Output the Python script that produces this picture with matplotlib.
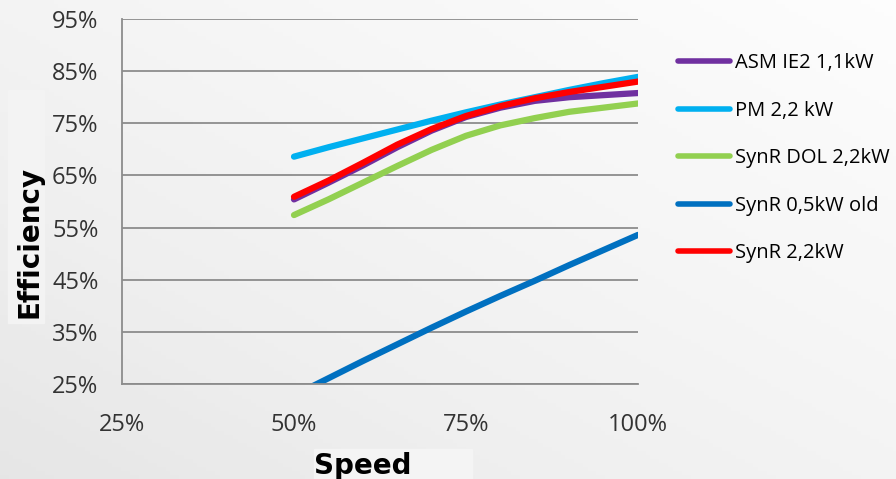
import numpy as np
import matplotlib
matplotlib.use("Agg")
import matplotlib.pyplot as plt
from matplotlib.ticker import FuncFormatter

# speed (%) and efficiency (%)
speed = [50, 55, 60, 65, 70, 75, 80, 85, 90, 95, 100]
asm_ie2 = [60.4, 63.6, 66.9, 70.4, 73.6, 76.2, 78.0, 79.3, 80.0, 80.4, 80.8]
pm_22 = [68.6, 70.4, 72.1, 73.8, 75.5, 77.1, 78.6, 80.0, 81.4, 82.7, 83.9]
synr_dol = [57.4, 60.4, 63.6, 66.8, 69.9, 72.6, 74.6, 76.0, 77.2, 78.0, 78.8]
synr_old = [22.8, 26.1, 29.4, 32.6, 35.8, 38.9, 41.9, 44.8, 47.8, 50.7, 53.6]
synr_22 = [60.9, 64.0, 67.4, 70.9, 73.9, 76.4, 78.3, 79.8, 81.0, 82.0, 83.0]

labels = ["ASM IE2 1,1kW", "PM 2,2 kW", "SynR DOL 2,2kW", "SynR 0,5kW old", "SynR 2,2kW"]
colors = ["#7030A0", "#00B0F0", "#92D050", "#0070C0", "#FF0000"]
x_ticks = [25, 50, 75, 100]
y_ticks = [25, 35, 45, 55, 65, 75, 85, 95]

fig = plt.figure(figsize=(8.96, 4.79), dpi=100)

# gray gradient background
bg = fig.add_axes([0, 0, 1, 1], zorder=-10)
gx, gy = np.meshgrid(np.linspace(0, 1, 200), np.linspace(0, 1, 120))
grad = 0.5 * gx + 0.5 * (1 - gy)
bg.imshow(grad, cmap="Greys_r", vmin=-5.0, vmax=1.1, aspect="auto", extent=[0, 1, 0, 1])
bg.axis("off")

# light boxes behind the axis titles
fig.patches.append(plt.Rectangle((8 / 896, 1 - 323 / 479), 36 / 896, 233 / 479,
                                 transform=fig.transFigure, color="#f3f3f3", zorder=-5))
fig.patches.append(plt.Rectangle((314 / 896, 0), 158 / 896, 30 / 479,
                                 transform=fig.transFigure, color="#f4f4f4", zorder=-5))

ax = fig.add_axes([122 / 896, 1 - 384 / 479, 516 / 896, 365 / 479])
ax.patch.set_alpha(0)

series = [asm_ie2, pm_22, synr_dol, synr_old, synr_22]
for vals, lab, col in zip(series, labels, colors):
    ax.plot(speed, vals, color=col, lw=4.5, label=lab, solid_capstyle="round")

ax.set_xlim(25, 100)
ax.set_ylim(25, 95)
ax.set_xticks(x_ticks)
ax.set_yticks(y_ticks)
pct = FuncFormatter(lambda v, p: f"{v:.0f}%")
ax.xaxis.set_major_formatter(pct)
ax.yaxis.set_major_formatter(pct)
ax.tick_params(length=0, labelsize=17, labelcolor="#333333")
ax.tick_params(axis="x", pad=21)
ax.tick_params(axis="y", pad=17)
for t in ax.get_xticklabels() + ax.get_yticklabels():
    t.set_fontfamily("Open Sans")

ax.yaxis.grid(True, color="#8c8c8c", lw=1.3)
ax.set_axisbelow(True)
for s in ["top", "right"]:
    ax.spines[s].set_visible(False)
for s in ["left", "bottom"]:
    ax.spines[s].set_color("#8c8c8c")
    ax.spines[s].set_linewidth(1.3)

fig.text(29 / 896, 1 - 242 / 479, "Efficiency", rotation=90, ha="center", va="center",
         fontsize=20, fontweight="bold", family="DejaVu Sans")
fig.text(314 / 896, 1 - 466 / 479, "Speed", ha="left", va="center",
         fontsize=20, fontweight="bold", family="DejaVu Sans")

leg = ax.legend(loc="upper left", bbox_to_anchor=(660 / 896, 1 - 35 / 479),
                bbox_transform=fig.transFigure, frameon=False,
                handlelength=2.6, handletextpad=0.2, labelspacing=1.37,
                prop={"family": "Open Sans", "size": 14.5})
for line in leg.get_lines():
    line.set_linewidth(4)

fig.savefig("out.png", dpi=100)
